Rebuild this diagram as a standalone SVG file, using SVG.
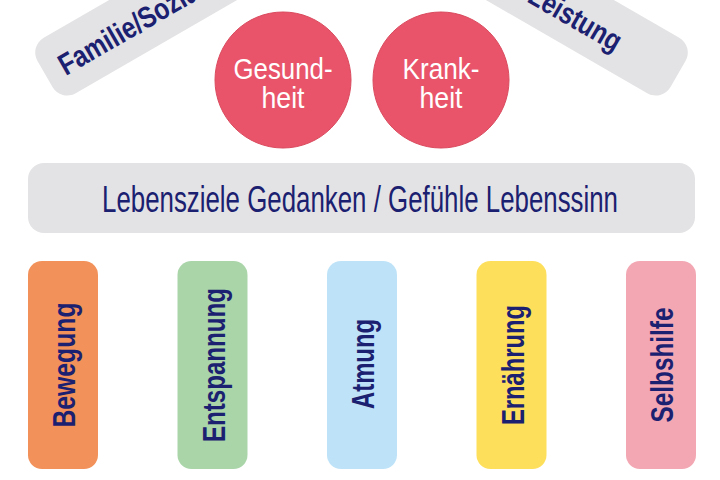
<svg xmlns="http://www.w3.org/2000/svg" width="720" height="480" viewBox="0 0 720 480">
<style>
  .t { font-family: "Liberation Sans Narrow", "Liberation Sans", Arial, sans-serif; }
  .navy { fill: #1B2070; }
  .bar { fill: #E3E3E5; }
  .circ { fill: #E9546A; stroke: #DA4A5E; stroke-width: 1; }
  .white { fill: #FFFFFF; }
  .pillar-text { font-size: 32px; font-weight: bold; }
</style>
<rect x="0" y="0" width="720" height="480" fill="#FFFFFF"/>

<g id="familie">
  <g transform="translate(45,74) rotate(-30)">
    <rect x="0" y="-32" width="400" height="64" rx="17" class="bar"/>
    <text x="17" y="12" class="t navy" font-size="30" font-weight="bold" textLength="156" lengthAdjust="spacingAndGlyphs">Familie/Sozia</text>
  </g>
</g>

<g id="leistung">
  <g transform="translate(678,74) rotate(30)">
    <rect x="-400" y="-32" width="400" height="64" rx="17" class="bar"/>
    <text x="-66" y="13" text-anchor="end" class="t navy" font-size="30" font-weight="bold" textLength="102" lengthAdjust="spacingAndGlyphs">Leistung</text>
  </g>
</g>

<g id="gesundheit">
  <circle cx="283" cy="80" r="68" class="circ"/>
  <text x="283" y="79" text-anchor="middle" class="t white" font-size="29" textLength="99" lengthAdjust="spacingAndGlyphs">Gesund-</text>
  <text x="283" y="108" text-anchor="middle" class="t white" font-size="29" textLength="43" lengthAdjust="spacingAndGlyphs">heit</text>
</g>

<g id="krankheit">
  <circle cx="441" cy="80" r="68" class="circ"/>
  <text x="441" y="79" text-anchor="middle" class="t white" font-size="29" textLength="77" lengthAdjust="spacingAndGlyphs">Krank-</text>
  <text x="441" y="108" text-anchor="middle" class="t white" font-size="29" textLength="43" lengthAdjust="spacingAndGlyphs">heit</text>
</g>

<g id="lebensziele">
  <rect x="28" y="163" width="667" height="70" rx="16" class="bar"/>
  <text x="360" y="212" text-anchor="middle" class="t navy" font-size="37" textLength="516" lengthAdjust="spacingAndGlyphs">Lebensziele Gedanken / Gefühle Lebenssinn</text>
</g>

<g id="bewegung">
  <rect x="28" y="261" width="70" height="208" rx="14" fill="#F29159"/>
  <text transform="translate(75,365) rotate(-90)" text-anchor="middle" class="t navy pillar-text" textLength="125" lengthAdjust="spacingAndGlyphs">Bewegung</text>
</g>

<g id="entspannung">
  <rect x="177.5" y="261" width="70" height="208" rx="14" fill="#A9D5A9"/>
  <text transform="translate(224.5,365) rotate(-90)" text-anchor="middle" class="t navy pillar-text" textLength="154" lengthAdjust="spacingAndGlyphs">Entspannung</text>
</g>

<g id="atmung">
  <rect x="327" y="261" width="70" height="208" rx="14" fill="#BEE3F8"/>
  <text transform="translate(374,364) rotate(-90)" text-anchor="middle" class="t navy pillar-text" textLength="90" lengthAdjust="spacingAndGlyphs">Atmung</text>
</g>

<g id="ernaehrung">
  <rect x="476.5" y="261" width="70" height="208" rx="14" fill="#FDDF5C"/>
  <text transform="translate(523.5,365) rotate(-90)" text-anchor="middle" class="t navy pillar-text" textLength="120" lengthAdjust="spacingAndGlyphs">Ernährung</text>
</g>

<g id="selbshilfe">
  <rect x="626" y="261" width="70" height="208" rx="14" fill="#F2A7B3"/>
  <text transform="translate(673,365) rotate(-90)" text-anchor="middle" class="t navy pillar-text" textLength="115" lengthAdjust="spacingAndGlyphs">Selbshilfe</text>
</g>

<g id="connectors"></g>
</svg>
